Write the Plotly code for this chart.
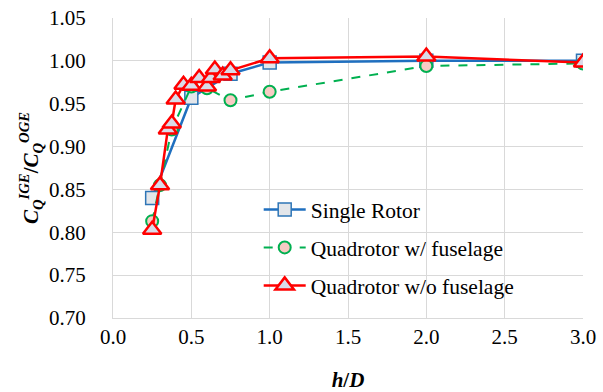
import plotly.graph_objects as go

# Data
single_x = [0.25, 0.5, 0.75, 1.0, 2.0, 3.0]
single_y = [0.840, 0.957, 0.985, 0.998, 1.000, 1.000]

fus_x = [0.25, 0.3, 0.375, 0.5, 0.6, 0.75, 1.0, 2.0, 3.0]
fus_y = [0.813, 0.855, 0.920, 0.970, 0.968, 0.954, 0.964, 0.994, 0.997]

nofus_x = [0.25, 0.3, 0.35, 0.375, 0.4, 0.45, 0.5, 0.55, 0.6, 0.625, 0.65, 0.7, 0.75, 1.0, 2.0, 3.0]
nofus_y = [0.803, 0.855, 0.920, 0.927, 0.955, 0.972, 0.971, 0.980, 0.970, 0.980, 0.990, 0.983, 0.989, 1.003, 1.005, 0.998]

x_ticks = [0.0, 0.5, 1.0, 1.5, 2.0, 2.5, 3.0]
y_ticks = [0.70, 0.75, 0.80, 0.85, 0.90, 0.95, 1.00, 1.05]

FONT = "Liberation Serif"

fig = go.Figure()
fig.add_trace(go.Scatter(
    x=single_x, y=single_y, name="Single Rotor", mode="lines+markers",
    line=dict(color="#1f6fbf", width=2.5),
    marker=dict(symbol="square", size=13, color="#e3e6ea", line=dict(color="#2e75b6", width=1.5)),
    legendgroup="a"))
fig.add_trace(go.Scatter(
    x=fus_x, y=fus_y, name="Quadrotor w/ fuselage", mode="lines+markers",
    line=dict(color="#00b050", width=2, dash="dash"),
    marker=dict(symbol="circle", size=12, color="#f8cbc4", line=dict(color="#00b050", width=2)),
    legendgroup="b"))
fig.add_trace(go.Scatter(
    x=nofus_x, y=nofus_y, name="Quadrotor w/o fuselage", mode="lines+markers",
    line=dict(color="#ff0000", width=2.5),
    marker=dict(symbol="triangle-up", size=16, color="#d9dbe8", line=dict(color="#ff0000", width=2.5)),
    legendgroup="c"))

fig.update_layout(
    template="none",
    width=603, height=392,
    margin=dict(l=113, r=20, t=18, b=74),
    plot_bgcolor="white", paper_bgcolor="white",
    font=dict(family=FONT, size=21, color="black"),
    legend=dict(x=0.31, y=0.43, xanchor="left", yanchor="top",
                bgcolor="rgba(255,255,255,0)", font=dict(size=21.5, family=FONT),
                tracegroupgap=7, itemwidth=42),
    xaxis=dict(range=[0, 3.0], tickvals=x_ticks, ticktext=[f"{v:.1f}" for v in x_ticks],
               showgrid=True, gridcolor="#d9d9d9", gridwidth=1, zeroline=False,
               showline=True, linecolor="#d9d9d9", linewidth=1, ticks="",
               tickfont=dict(size=21, family=FONT), ticklabelstandoff=0,
               title=dict(text="<b><i>h</i>/<i>D</i></b>", font=dict(size=21, family=FONT), standoff=28)),
    yaxis=dict(range=[0.70, 1.05], tickvals=y_ticks, ticktext=[f"{v:.2f}" for v in y_ticks],
               showgrid=True, gridcolor="#d9d9d9", gridwidth=1, zeroline=False,
               showline=True, linecolor="#d9d9d9", linewidth=1, ticks="",
               tickfont=dict(size=21, family=FONT), ticklabelstandoff=22,
               title=dict(text="<b><i>C</i><sub><i>Q</i></sub><sup><i>IGE</i></sup>/<i>C</i><sub><i>Q</i></sub><sup><i>OGE</i></sup></b>",
                          font=dict(size=21, family=FONT), standoff=4)),
)

fig.write_html("out.html")
